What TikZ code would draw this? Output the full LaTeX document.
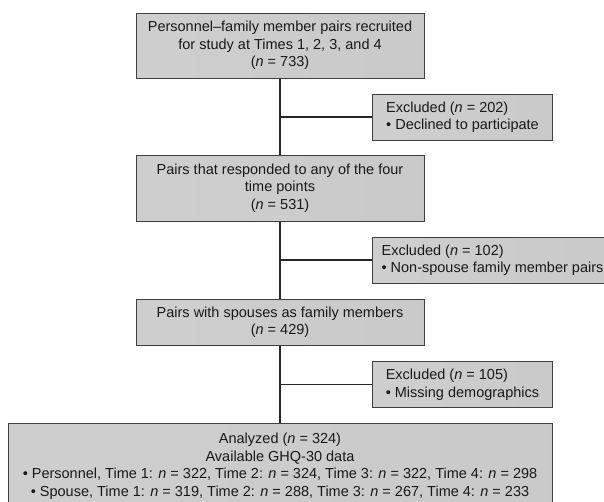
\documentclass[tikz,border=0pt]{standalone}
\usepackage{fontspec}
\setmainfont{Liberation Sans}
\newcommand{\nn}{\textit{n}}

\begin{document}
\begin{tikzpicture}[x=1pt,y=-1pt,
  every node/.style={font=\fontsize{14.5}{17.5}\selectfont,text=black!90},
  stagebox/.style={rectangle,draw=black!75,line width=1pt,align=center,
    left color=black!19,middle color=black!4,right color=black!21,inner sep=0pt},
  exclbox/.style={rectangle,draw=black!75,line width=1pt,align=left,anchor=west,
    left color=black!19,middle color=black!4,right color=black!21,
    inner xsep=9pt,inner ysep=0pt,minimum height=46pt},
  link/.style={draw=black!85,line width=1.1pt}]
\clip (0,0) rectangle (604,501);
\fill[white] (0,0) rectangle (604,501);

\node[stagebox,minimum width=288pt,minimum height=65pt] (recruit) at (280,45.5)
  {Personnel--family member pairs recruited\\for study at Times 1, 2, 3, and 4\\(\nn{} = 733)};
\node[stagebox,minimum width=288pt,minimum height=66pt] (respond) at (280,188)
  {Pairs that responded to any of the four\\time points\\(\nn{} = 531)};
\node[stagebox,minimum width=288pt,minimum height=46pt] (spouse) at (280,322)
  {Pairs with spouses as family members\\(\nn{} = 429)};
\node[stagebox,minimum width=544pt,minimum height=86pt] (analyzed) at (280,466)
  {Analyzed (\nn{} = 324)\\Available GHQ-30 data\\
   \textbullet{} Personnel, Time 1: \nn{} = 322, Time 2: \nn{} = 324, Time 3: \nn{} = 322, Time 4: \nn{} = 298\\
   \textbullet{} Spouse, Time 1: \nn{} = 319, Time 2: \nn{} = 288, Time 3: \nn{} = 267, Time 4: \nn{} = 233};

\node[exclbox,minimum width=180pt] (declined) at (372,117)
  {Excluded (\nn{} = 202)\\\textbullet{} Declined to participate};
\node[exclbox,minimum width=240pt] (nonspouse) at (372,260)
  {Excluded (\nn{} = 102)\\\textbullet{} Non-spouse family member pairs};
\node[exclbox,minimum width=180pt] (missing) at (372,384.5)
  {Excluded (\nn{} = 105)\\\textbullet{} Missing demographics};

\draw[link] (recruit.south) -- (respond.north);
\draw[link] (recruit.south |- declined.west) -- (declined.west);
\draw[link] (respond.south) -- (spouse.north);
\draw[link] (respond.south |- nonspouse.west) -- (nonspouse.west);
\draw[link] (spouse.south) -- (analyzed.north);
\draw[link] (spouse.south |- missing.west) -- (missing.west);
\end{tikzpicture}
\end{document}
